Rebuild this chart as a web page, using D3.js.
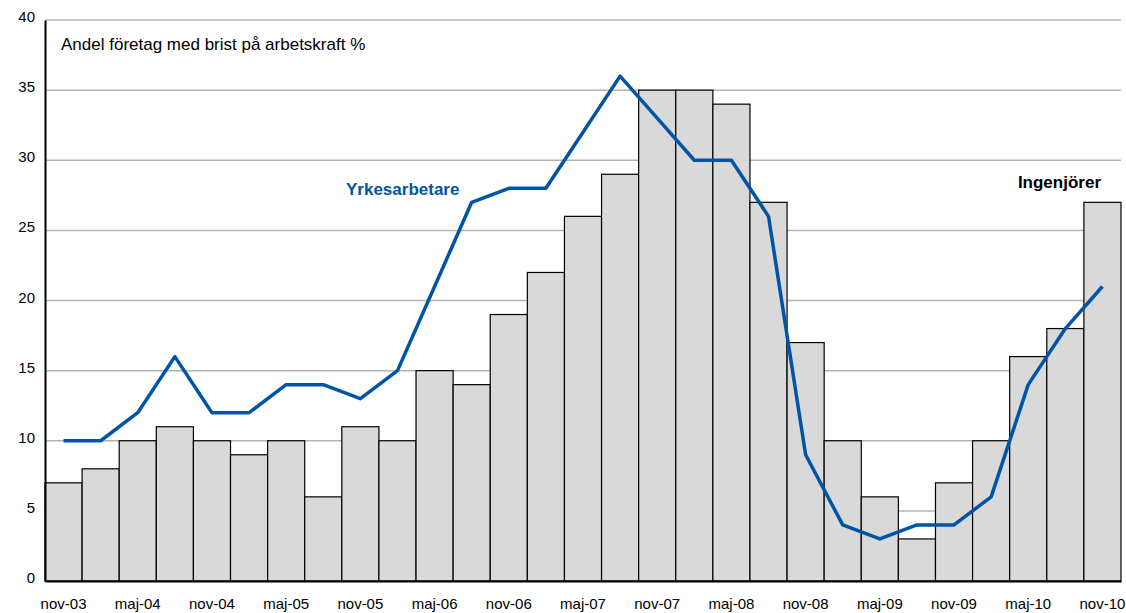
<!DOCTYPE html>
<html lang="sv">
<head>
  <meta charset="UTF-8">
  <title>Andel företag med brist på arbetskraft</title>
  <script src="https://d3js.org/d3.v7.min.js"></script>
  <style>
    body { margin: 0; background: #fff; font-family: "Liberation Sans", Arial, sans-serif; }
    .tick text { font-size: 15px; fill: #000; }
  </style>
</head>
<body>
  <svg width="1126" height="613"></svg>
  <script>
    const periods = ["nov-03","feb-04","maj-04","aug-04","nov-04","feb-05","maj-05","aug-05","nov-05","feb-06",
      "maj-06","aug-06","nov-06","feb-07","maj-07","aug-07","nov-07","feb-08","maj-08","aug-08",
      "nov-08","feb-09","maj-09","aug-09","nov-09","feb-10","maj-10","aug-10","nov-10"];
    const ingenjorer = [7, 8, 10, 11, 10, 9, 10, 6, 11, 10, 15, 14, 19, 22, 26, 29, 35, 35, 34, 27,
      17, 10, 6, 3, 7, 10, 16, 18, 27];
    const yrkesarbetare = [10, 10, 12, 16, 12, 12, 14, 14, 13, 15, 21, 27, 28, 28, 32, 36, 33, 30, 30, 26,
      9, 4, 3, 4, 4, 6, 14, 18, 21];
    const yTicks = [0, 5, 10, 15, 20, 25, 30, 35, 40];
    const xLabels = periods.filter((d, i) => i % 2 === 0);

    const svg = d3.select("svg");
    const margin = { top: 20, right: 5, bottom: 32, left: 45 };
    const width = 1126, height = 613;

    const x = d3.scaleBand()
      .domain(periods)
      .range([margin.left, width - margin.right])
      .padding(0);

    const y = d3.scaleLinear()
      .domain([0, 40])
      .range([height - margin.bottom, margin.top]);

    // gridlines
    svg.append("g")
      .selectAll("line")
      .data(yTicks.filter(d => d > 0))
      .join("line")
        .attr("x1", margin.left)
        .attr("x2", width - margin.right)
        .attr("y1", d => y(d))
        .attr("y2", d => y(d))
        .attr("stroke", "#b3b3b3")
        .attr("stroke-width", 1.5);

    // bars
    svg.append("g")
      .selectAll("rect")
      .data(ingenjorer)
      .join("rect")
        .attr("x", (d, i) => x(periods[i]))
        .attr("y", d => y(d))
        .attr("width", x.bandwidth())
        .attr("height", d => y(0) - y(d))
        .attr("fill", "#d9d9d9")
        .attr("stroke", "#000")
        .attr("stroke-width", 1.2);

    // line
    const line = d3.line()
      .x((d, i) => x(periods[i]) + x.bandwidth() / 2)
      .y(d => y(d));

    svg.append("path")
      .datum(yrkesarbetare)
      .attr("d", line)
      .attr("fill", "none")
      .attr("stroke", "#0054a6")
      .attr("stroke-width", 3.5)
      .attr("stroke-linejoin", "round");

    // axes
    const yAxis = svg.append("g")
      .attr("transform", `translate(${margin.left},0)`)
      .call(d3.axisLeft(y).tickValues(yTicks).tickSize(0).tickPadding(10).tickFormat(d3.format("d")));
    yAxis.select(".domain").attr("stroke", "#000").attr("stroke-width", 2);
    yAxis.selectAll(".tick text").attr("dy", "0.1em");

    const xAxis = svg.append("g")
      .attr("transform", `translate(0,${y(0)})`)
      .call(d3.axisBottom(x).tickValues(xLabels).tickSize(0).tickPadding(17));
    xAxis.select(".domain").attr("stroke", "#000").attr("stroke-width", 2);

    // texts
    svg.append("text")
      .attr("x", 61).attr("y", 50)
      .attr("font-size", 17)
      .text("Andel företag med brist på arbetskraft %");

    svg.append("text")
      .attr("x", 346).attr("y", 195)
      .attr("font-size", 17)
      .attr("font-weight", "bold")
      .attr("fill", "#0054a6")
      .text("Yrkesarbetare");

    svg.append("text")
      .attr("x", 1101).attr("y", 188)
      .attr("text-anchor", "end")
      .attr("font-size", 17)
      .attr("font-weight", "bold")
      .text("Ingenjörer");
  </script>
</body>
</html>
